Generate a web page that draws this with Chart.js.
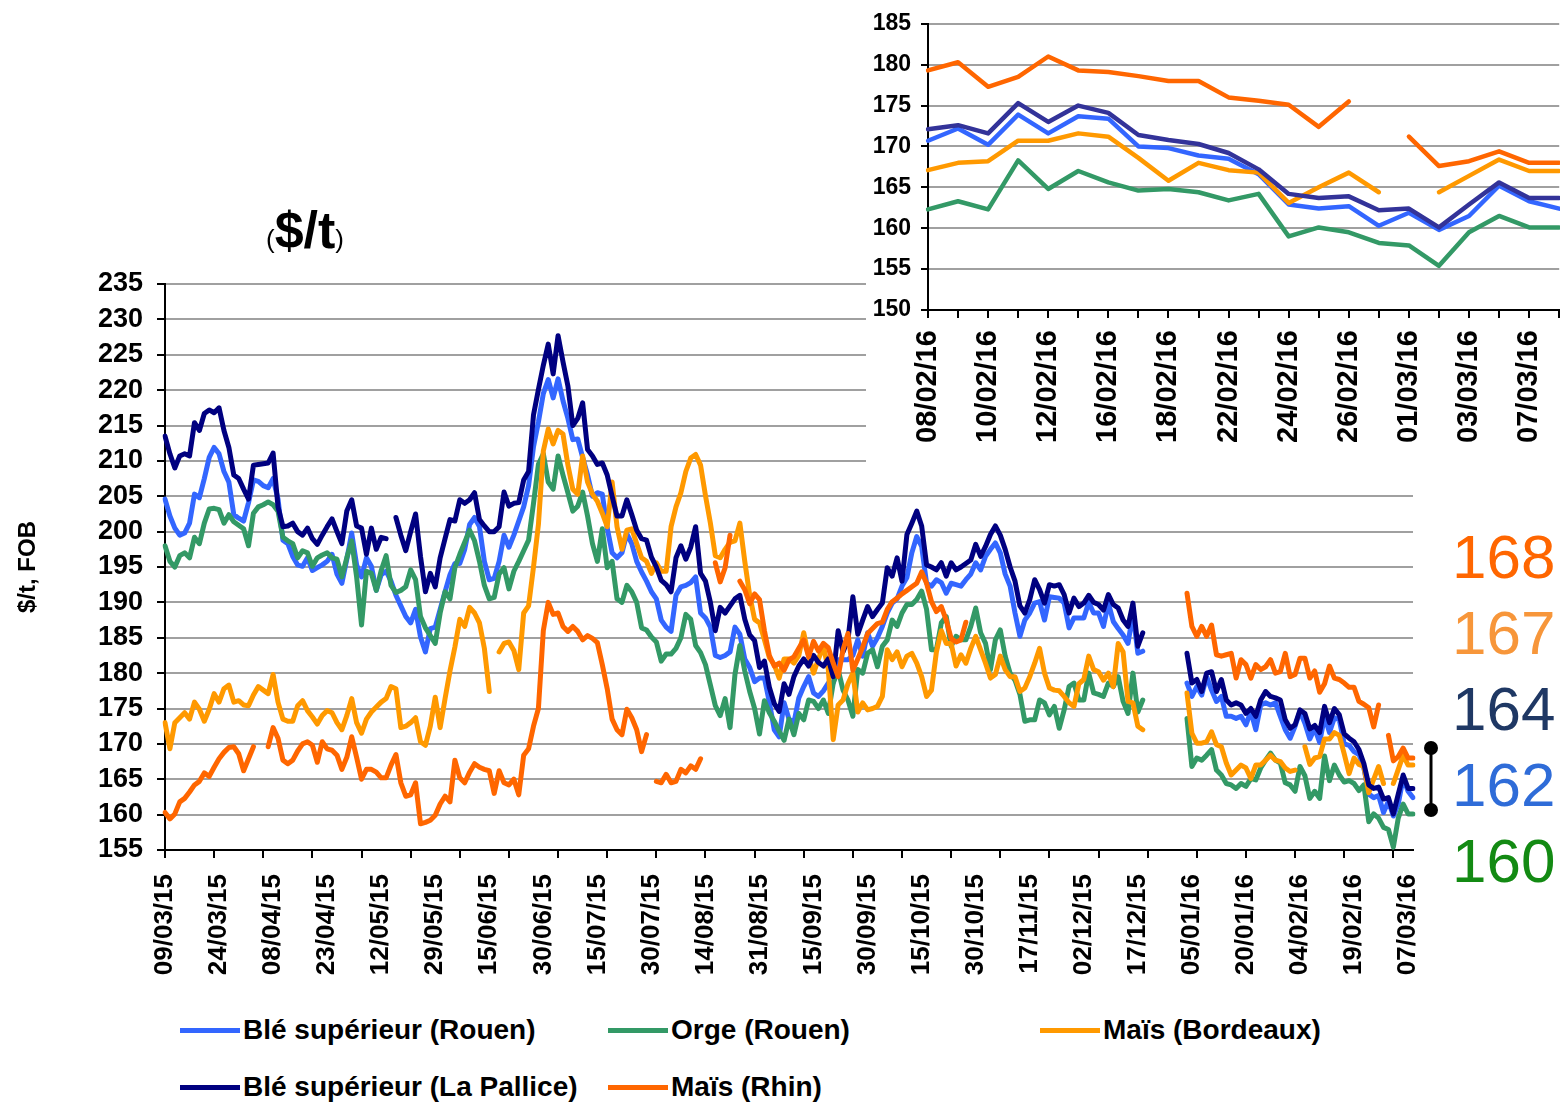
<!DOCTYPE html>
<html>
<head>
<meta charset="utf-8">
<script src="https://cdn.jsdelivr.net/npm/chart.js@4.4.1/dist/chart.umd.min.js"></script>
<style>
  body { margin: 0; background: #fff; }
  #page { position: relative; width: 1560px; height: 1105px; overflow: hidden; background: #fff;
          font-family: 'Liberation Sans', Arial, sans-serif; color: #000; }
  #main { position: absolute; left: 0; top: 0; }
  #inset { position: absolute; left: 866px; top: 0; background: #fff; }
  #unit { position: absolute; left: 266px; top: 200px; white-space: nowrap; }
  #unit .p { font-size: 26px; }
  #unit .u { font-size: 52px; font-weight: bold; }
  .leg { position: absolute; display: flex; align-items: center; font-size: 28px; font-weight: bold; white-space: nowrap; }
  .leg i { display: inline-block; width: 60px; height: 5px; margin-right: 3px; }
  .last { position: absolute; left: 1452px; font-size: 62px; line-height: 62px; }
  #bracket { position: absolute; left: 1420px; top: 738px; }
</style>
</head>
<body>
<div id="page">
  <canvas id="main" width="1560" height="1005"></canvas>
  <canvas id="inset" width="740" height="470"></canvas>
  <div id="unit"><span class="p">(</span><span class="u">$/t</span><span class="p">)</span></div>
  <svg id="bracket" width="22" height="84">
    <line x1="11" y1="10" x2="11" y2="72" stroke="#000" stroke-width="3"/>
    <circle cx="11" cy="10" r="7" fill="#000"/>
    <circle cx="11" cy="72" r="7" fill="#000"/>
  </svg>
</div>
<script>
// tick labels shown under the main chart (one every 11 quotes)
const dateTicks = ['09/03/15', '24/03/15', '08/04/15', '23/04/15', '12/05/15', '29/05/15', '15/06/15', '30/06/15',
    '15/07/15', '30/07/15', '14/08/15', '31/08/15', '15/09/15', '30/09/15', '15/10/15', '30/10/15', '17/11/15',
    '02/12/15', '17/12/15', '05/01/16', '20/01/16', '04/02/16', '19/02/16', '07/03/16'];

// last quotes, shown in the zoomed chart
const insetDates = ['08/02/16', '09/02/16', '10/02/16', '11/02/16', '12/02/16', '15/02/16', '16/02/16', '17/02/16',
    '18/02/16', '19/02/16', '22/02/16', '23/02/16', '24/02/16', '25/02/16', '26/02/16', '29/02/16', '01/03/16',
    '02/03/16', '03/03/16', '04/03/16', '07/03/16', '08/03/16'];

const N = null;

const bleRouen = [
    204.6, 202.2, 200.5, 199.5, 199.8, 201.2, 205.3, 204.8, 207.5, 210.5,
    211.9, 211, 208.5, 207, 202.4, 201.9, 201.5, 204.1, 207.3, 207.1,
    206.5, 206.2, 207.5, 204.6, 198.8, 198.3, 196.5, 195.3, 195.1, 196.3,
    194.5, 194.9, 195.3, 195.8, 196.8, 194, 192.7, 196.1, 199.8, 195.3,
    193.6, 196.3, 195.1, 191.7, 193.9, 194.4, 193, 191, 189.5, 188,
    187.1, 189, 185.1, 183, 186.3, 186.5, 189, 191.5, 193.9, 195.5,
    195.5, 197.5, 201, 202, 200.7, 195.8, 193.2, 193.4, 195.8, 199.5,
    197.8, 199.5, 201.5, 203.5, 206.5, 212, 215.5, 219.5, 221.5, 218.9,
    221.6, 218.5, 216, 213, 213.1, 210.5, 208, 205, 205.5, 205.3,
    200.5, 197, 196.3, 197, 199.7, 198.3, 195.8, 194.3, 193, 191.5,
    190.5, 187.5, 186.5, 185.9, 191, 192.2, 192.4, 192.8, 193.6, 188.5,
    187.8, 186.5, 182.5, 182.2, 182.5, 183, 186.5, 185.5, 182, 180.8,
    178.8, 179.3, 179.3, 175.9, 172, 171, 175.8, 173.5, 173, 176.5,
    178.1, 179.5, 177.2, 176.7, 177.5, 178.6, 178.6, 181.9, 181.9, 181.9,
    182.5, 184.7, 182.4, 185.7, 183.8, 185, 186.6, 188.5, 189.9, 190.5,
    192.3, 193.5, 197, 199.3, 197.9, 192.7, 192.3, 193.2, 192.8, 191.3,
    192.7, 192.5, 192.3, 193.2, 194, 195.6, 194.6, 196.5, 197.5, 198.4,
    197, 194, 192.3, 188.5, 185.2, 187.5, 188.5, 189.9, 190.1, 187.5,
    190.8, 190.7, 190.6, 189.9, 186.4, 187.8, 187.8, 187.8, 190, 188.5,
    188.5, 186.6, 189.9, 187.3, 186.3, 185.4, 184.2, 188.5, 182.8, 183.1,
    N, N, N, N, N, N, N, N, 178.6, 176.7,
    178.1, 176.9, 179.5, 177.6, 176, 176.7, 173.9, 173.9, 173.6, 173.9,
    172.7, 174.6, 172, 175.5, 175.8, 175.5, 175.8, 173.9, 172, 170.8,
    172.5, 174.6, 172.9, 170.7, 172.2, 170.2, 173.9, 171.6, 173.7, 173.4,
    170, 169.8, 168.9, 168.5, 166.6, 162.9, 162.4, 162.7, 160.3, 161.9,
    159.8, 161.5, 165.2, 163.3, 162.4
];

const orgeRouen = [
    198, 195.8, 195, 196.6, 197, 196.3, 199.2, 198.3, 201.2, 203.2,
    203.3, 203.1, 201.2, 202.4, 201.4, 200.9, 200.4, 198, 202.6, 203.5,
    203.8, 204.2, 203.8, 202.9, 199.2, 198.7, 198.3, 196.3, 197.3, 197,
    195.1, 196.3, 196.7, 197, 196.3, 196.1, 193.6, 196.3, 198.7, 193.6,
    186.8, 194.4, 194.1, 191.7, 194.5, 196.6, 192.4, 191.4, 191.7, 192.2,
    194.6, 193.2, 188, 186.4, 185.3, 184.2, 188.5, 191.5, 190.5, 194.9,
    196.8, 198.5, 200.2, 198.7, 195.8, 192.4, 190.5, 190.7, 194, 194.9,
    191.9, 194.4, 195.8, 197.3, 198.8, 204, 209.5, 211, 207, 206,
    210.7, 208, 205.5, 202.9, 203.6, 205.6, 202.2, 198.3, 195.8, 200.4,
    194.9, 195.8, 190.5, 190, 192.4, 191.5, 190, 186.4, 186.1, 185.1,
    184.4, 181.7, 182.7, 182.7, 183.5, 185, 188.3, 187.6, 183.9, 182.9,
    181.2, 178.3, 175.4, 174, 176.4, 172.3, 179.8, 183.9, 180.3, 177.4,
    175, 171.4, 176.1, 174.4, 173.2, 171.8, 170.5, 173.5, 171.3, 174.3,
    173.4, 176.2, 176, 175, 176.2, 174.3, 178.6, 180.5, 177.6, 176.2,
    173.9, 180.5, 180, 182.8, 183.3, 180.9, 183.8, 184.7, 187.5, 186.6,
    188.5, 189.7, 189.7, 190.4, 191.6, 189, 183.3, 183.3, 187.1, 188,
    183.8, 185.2, 184.7, 184.7, 186.6, 189.2, 185.7, 184.2, 180.5, 184.7,
    186.1, 182.4, 180, 179, 177, 173.2, 173.4, 173.4, 176.2, 175.8,
    174.1, 175.3, 172.2, 174.8, 178.1, 178.6, 176.2, 176.2, 180, 177.2,
    177, 176.7, 178.6, 178.1, 179.5, 176, 174.3, 180, 174.5, 176.2,
    N, N, N, N, N, N, N, N, 173.6, 166.8,
    168, 167.7, 168.4, 169.2, 166.3, 165.6, 164.4, 164.2, 163.7, 164.4,
    164, 165.1, 164.9, 166.6, 167.7, 168.7, 167.7, 167.3, 164.5, 164.2,
    163.3, 166.8, 165.5, 162.3, 163.3, 162.3, 168.3, 164.8, 167, 165.6,
    164.6, 164.8, 164.4, 163.4, 164.2, 159, 160.1, 159.5, 158.2, 157.9,
    155.4, 159.5, 161.5, 160.1, 160.1
];

const maisBordeaux = [
    173, 169.3, 173, 173.7, 174.4, 173.5, 175.9, 174.9, 173.2, 174.9,
    177.1, 175.9, 177.8, 178.3, 175.9, 176.1, 175.5, 175.4, 176.9, 178.1,
    177.6, 177.1, 179.8, 175.9, 173.5, 173.2, 173.2, 175.4, 176.1, 174.7,
    173.8, 172.8, 174, 174.7, 174.4, 173, 172, 174, 176.4, 173,
    171.5, 173.5, 174.5, 175.2, 175.9, 176.4, 178.1, 177.8, 172.3, 172.5,
    173, 173.7, 170.3, 169.8, 172.5, 176.6, 172.3, 176.4, 180.3, 183.7,
    187.6, 186.6, 189.3, 188.5, 187.1, 183.5, 177.4, N, 183, 184.2,
    184.4, 183.2, 180.5, 188.5, 189.5, 195, 201, 211.4, 214.5, 212.4,
    214.3, 213.8, 209.4, 206, 205.3, 210.7, 207, 205.3, 204.3, 202.6,
    200.7, 207, 200.7, 197.5, 200.2, 200.4, 198.3, 196.3, 195.8, 194.1,
    195.6, 194.4, 194.4, 200.7, 203.5, 205.5, 208.5, 210.4, 210.9, 209.4,
    205.1, 201.2, 196.6, 196.3, 197.5, 198.5, 198.7, 201.2, 195.8, 191,
    187.6, 187.1, 184.7, 182.2, 181.2, 179.3, 182, 182, 181.4, 182.5,
    185.7, 182.4, 180, 182, 183.8, 180.5, 170.6, 175.5, 176.2, 178.5,
    180, 174.5, 175.8, 174.8, 175, 175.3, 176.7, 183.3, 181.9, 183,
    180.9, 182.4, 182.8, 181.4, 179.5, 176.7, 177.6, 183, 186, 184.2,
    184.2, 181, 182.6, 181.4, 183.5, 185.2, 183.3, 181.4, 179.3, 179.8,
    182.4, 180.5, 179.5, 179.5, 177.4, 177.9, 179.5, 181.4, 183.5, 180,
    177.9, 177.6, 177.5, 176.7, 175.8, 175.3, 178.5, 179.1, 182.4, 180.5,
    180.2, 179, 180, 178.1, 184.2, 183, 176, 175.8, 172.5, 172,
    N, N, N, N, N, N, N, N, 177.2, 171.5,
    170.1, 170.1, 170.3, 171.7, 169.9, 169.6, 167.3, 165.6, 166.3, 167,
    166.6, 165.1, 167, 167, 167.7, 168.4, 167.7, 167.5, 166.6, 166.1,
    166.3, N, 169.6, 167.1, 168, 168.2, 170.7, 170.7, 171.6, 171.2,
    168.6, 165.8, 168, 167.1, 166.8, 163.1, 165, 166.8, 164.4, N,
    164.4, 166.4, 168.4, 167, 167
];

const bleLaPallice = [
    213.5, 211, 209, 210.7, 211, 210.7, 215.4, 214.3, 216.7, 217.2,
    216.8, 217.5, 214.3, 211.9, 208, 207.5, 206, 204.6, 209.4, 209.5,
    209.6, 209.7, 211.1, 203.5, 200.7, 200.8, 201.2, 200, 199.5, 200.5,
    199, 198.2, 199.5, 200.7, 201.8, 200, 198.3, 202.9, 204.5, 200.8,
    200.5, 196.8, 200.5, 197.5, 199.2, 199, N, 202, 199.5, 197.3,
    200, 202.5, 196.5, 191.5, 194.1, 192.2, 196.3, 199, 201.7, 201.5,
    204.5, 204, 204.5, 205.5, 201.7, 200.8, 200, 200, 200.7, 205.6,
    203.6, 204, 204.1, 207.3, 208.5, 216.5, 220.1, 223.5, 226.5, 222.3,
    227.7, 224, 220.6, 215, 216, 218.2, 211.6, 210.7, 209.5, 209.7,
    208, 205, 202.2, 202.2, 204.5, 202.4, 200.2, 199, 198.8, 196.4,
    195, 193.1, 192.5, 191.5, 196.3, 198, 196.1, 197.8, 200.7, 194.1,
    193, 190, 186, 189.3, 188.5, 189.5, 190.5, 191, 187.6, 185.4,
    184.6, 180.8, 181.7, 178, 175.7, 174.6, 178.5, 177, 179.5, 181,
    182, 181, 182.5, 181.5, 181, 182, 179.5, 186, 183, 184.7,
    190.8, 185.5, 187.5, 189.4, 188, 189, 189.9, 194.9, 193.7, 196.3,
    193, 199.6, 201.2, 202.9, 200.8, 195.3, 195, 194.6, 195.6, 193.7,
    195.6, 194.6, 195, 195.5, 196, 198.2, 196.5, 197.9, 199.6, 200.8,
    199.5, 197.5, 195, 193, 189.5, 188.5, 190.4, 193.2, 191.8, 189.9,
    192.5, 192.3, 192.5, 191.1, 188.5, 190.6, 189.4, 189.9, 191, 190,
    189.7, 188.9, 191.1, 189.7, 189.2, 187.5, 186.6, 189.9, 183.8, 185.7,
    N, N, N, N, N, N, N, N, 182.8, 178.6,
    179.1, 177.4, 180, 180.2, 177.4, 179.1, 176.2, 175.5, 175.8, 175.5,
    174.3, 175, 173.9, 176.2, 177.4, 176.7, 176.5, 176.2, 173.4, 172.2,
    172.7, 174.8, 174.3, 172.1, 172.6, 171.6, 175.3, 173, 175, 174.1,
    171.4, 170.8, 170.3, 169.2, 167.2, 164.2, 163.7, 163.9, 162.2, 162.4,
    160.1, 162.9, 165.6, 163.7, 163.7
];

const maisRhin = [
    160.3, 159.4, 160.1, 161.8, 162.3, 163.2, 164.2, 164.7, 165.9, 165.4,
    166.7, 167.9, 168.8, 169.5, 169.6, 168.6, 166.2, 167.9, 169.6, N,
    N, 169.6, 172.3, 170.8, 167.7, 167.2, 167.7, 169, 170, 170.3,
    169.8, 167.4, 170.3, 169.3, 169.1, 168.4, 166.4, 168.1, 171, 168.1,
    165, 166.4, 166.4, 166, 165.2, 165.2, 167, 168.5, 164.5, 162.6,
    162.8, 164.5, 158.7, 158.9, 159.2, 159.9, 161.5, 162.6, 161.8, 167.7,
    165.2, 164.5, 166, 167.2, 166.7, 166.4, 166.2, 163, 166.2, 164.5,
    164.2, 165, 162.8, 168.4, 169.3, 172.5, 175, 186, 190, 188.3,
    188.5, 186.6, 185.9, 186.6, 185.9, 184.7, 185.3, 184.9, 184.3, 181.2,
    177.8, 173.5, 172, 171.3, 174.9, 173.7, 172, 168.9, 171.3, N,
    164.7, 164.5, 165.7, 164.5, 164.7, 166.4, 165.9, 166.9, 166.4, 167.9,
    N, N, 195.6, 192.9, 194.9, 199.5, N, 193, 191.8, 189.8,
    191.2, 190.4, 186, 182.5, 181, 181.4, 180.4, 181.9, 182.3, 183.5,
    184.7, 182.3, 184.5, 183.1, 184.2, 183.6, 181.4, 179.5, 183.3, 185.6,
    180.4, 182, 183.7, 185.6, 186.3, 187, 187.2, 189, 190.1, 190.6,
    191.2, 191.7, 192.2, 192.7, 194.3, 192.7, 190.1, 188.7, 189.4, 187.5,
    184.9, 184.4, 184.7, 187.2, N, N, N, N, N, N,
    N, N, N, N, N, N, N, N, N, N,
    N, N, N, N, N, N, N, N, N, N,
    N, N, N, N, N, N, N, N, N, N,
    N, N, N, N, N, N, N, N, 191.3, 186.6,
    185.2, 186.6, 185.2, 186.8, 182.6, 182.4, 182.6, 182.8, 179.3, 181.9,
    181.2, 179.3, 181.2, 180.5, 180.9, 181.9, 180, 180.2, 182.8, 179.5,
    179.8, 182.1, 182.1, 179.3, 180.3, 177.3, 178.5, 181, 179.3, 179.1,
    178.6, 178, 178, 176, 175.6, 175.1, 172.4, 175.5, N, 171.2,
    167.6, 168.2, 169.4, 168, 168
];

const FONT = "'Liberation Sans', Arial, sans-serif";
Chart.defaults.font.family = FONT;
Chart.defaults.color = '#000';

const series = [
    { label: 'Blé supérieur (Rouen)', data: bleRouen, color: '#3366FF', endColor: '#2F6CD8', order: 5 },
    { label: 'Orge (Rouen)', data: orgeRouen, color: '#339966', endColor: '#138A13', order: 4 },
    { label: 'Maïs (Bordeaux)', data: maisBordeaux, color: '#FF9900', endColor: '#F7963A', order: 3 },
    { label: 'Blé supérieur (La Pallice)', data: bleLaPallice, color: '#000080', insetColor: '#333399', endColor: '#1F3864', order: 2 },
    { label: 'Maïs (Rhin)', data: maisRhin, color: '#FF6600', endColor: '#FF6600', order: 1 }
];

const lineStyle = { pointRadius: 0, tension: 0, borderCapStyle: 'round', borderJoinStyle: 'round', spanGaps: false };

// main chart
const mainLabels = bleRouen.map((_, i) => i);
new Chart(document.getElementById('main'), {
    type: 'line',
    data: {
        labels: mainLabels,
        datasets: series.map(s => ({ ...lineStyle, label: s.label, data: s.data, borderColor: s.color,
            backgroundColor: s.color, borderWidth: 5, order: s.order }))
    },
    options: {
        responsive: false,
        animation: false,
        layout: { padding: { top: 284, right: 147, left: 0, bottom: 0 } },
        plugins: { legend: { display: false }, tooltip: { enabled: false } },
        scales: {
            x: {
                ticks: {
                    autoSkip: false, minRotation: 90, maxRotation: 90, padding: 16,
                    font: { size: 26, weight: 'bold' },
                    callback: (v, i) => (i % 11 === 0 ? dateTicks[i / 11] : '')
                },
                grid: {
                    drawOnChartArea: false, tickLength: 8, lineWidth: 2,
                    tickColor: c => (c.index % 10 === 0 ? '#000' : 'rgba(0,0,0,0)')
                },
                border: { color: '#000', width: 2 },
                afterFit: s => { s.height = 155; }
            },
            y: {
                min: 155, max: 235,
                ticks: { stepSize: 5, autoSkip: false, padding: 14, font: { size: 27, weight: 'bold' } },
                grid: { color: '#a0a0a0', lineWidth: 2, tickColor: '#000', tickLength: 8 },
                border: { color: '#000', width: 2 },
                title: { display: true, text: '$/t, FOB', font: { size: 24, weight: 'bold' }, padding: { top: 14, bottom: 0 } },
                afterFit: s => { s.width = 165; }
            }
        }
    }
});

// zoom on the last quotes
const firstInset = bleRouen.length - insetDates.length;
new Chart(document.getElementById('inset'), {
    type: 'line',
    data: {
        labels: insetDates,
        datasets: series.map(s => ({ ...lineStyle, label: s.label, data: s.data.slice(firstInset),
            borderColor: s.insetColor || s.color, borderWidth: 4.5, order: s.order }))
    },
    options: {
        responsive: false,
        animation: false,
        layout: { padding: { top: 22, right: 30, left: 0, bottom: 0 } },
        plugins: { legend: { display: false }, tooltip: { enabled: false } },
        scales: {
            x: {
                ticks: {
                    autoSkip: false, minRotation: 90, maxRotation: 90, padding: 12,
                    font: { size: 29, weight: 'bold' },
                    callback: (v, i) => (i % 2 === 0 ? insetDates[i] : '')
                },
                grid: { drawOnChartArea: false, tickLength: 8, lineWidth: 2, tickColor: '#000' },
                border: { color: '#000', width: 2 },
                afterFit: s => { s.height = 160; }
            },
            y: {
                min: 150, max: 185,
                ticks: { stepSize: 5, autoSkip: false, padding: 10, font: { size: 23, weight: 'bold' } },
                grid: { color: '#a0a0a0', lineWidth: 2, tickColor: '#000', tickLength: 7 },
                border: { color: '#000', width: 2 },
                afterFit: s => { s.width = 62; }
            }
        }
    }
});

const page = document.getElementById('page');

// legend
const legendSpots = [[180, 1031], [608, 1031], [1040, 1031], [180, 1088], [608, 1088]];
series.forEach((s, k) => {
    const d = document.createElement('div');
    d.className = 'leg';
    d.style.left = legendSpots[k][0] + 'px';
    d.style.top = (legendSpots[k][1] - 17) + 'px';
    d.innerHTML = `<i style="background:${s.color}"></i>${s.label}`;
    page.appendChild(d);
});

// last values, highest first
const endOrder = [4, 2, 3, 0, 1];
endOrder.forEach((k, row) => {
    const s = series[k];
    const d = document.createElement('div');
    d.className = 'last';
    d.style.top = (526 + row * 76) + 'px';
    d.style.color = s.endColor;
    d.textContent = Math.round(s.data[s.data.length - 1]);
    page.appendChild(d);
});
</script>
</body>
</html>
